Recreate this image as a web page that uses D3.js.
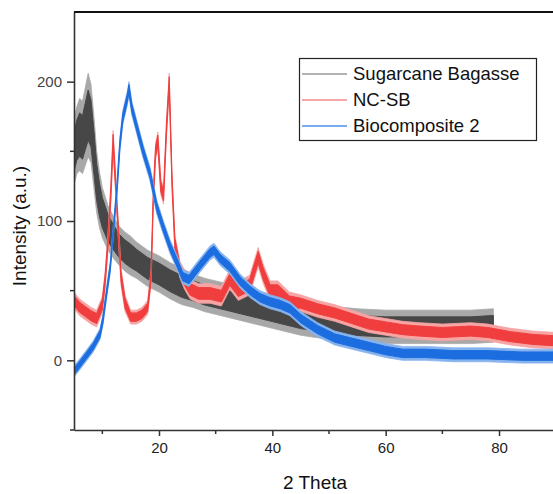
<!DOCTYPE html>
<html><head><meta charset="utf-8">
<script src="https://cdn.jsdelivr.net/npm/d3@7"></script>
<style>body{margin:0;background:#fff}svg{display:block}</style>
</head><body>
<svg id="c" width="553" height="494"></svg>
<script>
// ---- data ----
const seriesNames = ["Sugarcane Bagasse", "NC-SB", "Biocomposite 2"];
const xTicks = [20, 40, 60, 80];
const yTicks = [0, 100, 200];

// Sugarcane Bagasse: centre line and noise half-width
const sbX   = [5, 5.5, 6, 6.5, 7, 7.5, 8, 8.5, 9, 9.5, 10, 11, 12, 13, 14, 15, 16, 18, 20, 22, 24, 26, 28, 30, 33, 36, 40, 45, 50, 55, 60, 65, 70, 75, 79];
const sbY   = [150, 158, 162, 160, 168, 176, 170, 150, 128, 115, 106, 95, 88, 82, 78, 75, 72, 66, 62, 57, 53, 50, 47, 45, 42, 39, 35, 30, 27, 25, 24, 24, 24, 24, 25];
const sbAmp = [24, 24, 26, 26, 28, 30, 28, 26, 22, 20, 18, 16, 15, 14, 14, 14, 13, 13, 13, 13, 13, 12, 12, 12, 12, 12, 12, 12, 12, 12, 12, 12, 12, 12, 12];

// NC-SB
const ncX   = [5, 6, 7, 8, 9, 10, 10.5, 11, 11.5, 11.9, 12.3, 12.8, 13.3, 14, 15, 16, 17, 18, 18.6, 19, 19.4, 19.8, 20.3, 20.8, 21.3, 21.8, 22.3, 22.8, 23.7, 24.5, 25.5, 27, 29, 31, 32.5, 34, 36, 37.5, 38.4, 39.6, 41, 43, 45, 48, 51, 54, 57, 60, 63, 66, 70, 75, 78, 82, 86, 90];
const ncY   = [43, 38, 35, 32, 30, 40, 58, 85, 120, 158, 130, 95, 60, 41, 31, 31, 33, 38, 60, 118, 150, 158, 125, 118, 165, 200, 128, 84, 65, 58, 51, 48, 48, 46, 58, 50, 54, 74, 62, 50, 50, 42, 41, 37, 34, 30, 26, 24, 22, 21, 20, 21, 20, 17, 15, 14];
const ncAmp = [6, 6, 6, 6, 6, 6, 6, 6, 7, 7, 7, 6, 6, 6, 5, 5, 5, 5, 5, 6, 6, 6, 6, 6, 6, 6, 6, 6, 6, 7, 7, 7, 7, 7, 7, 7, 7, 7, 7, 7, 7, 7, 6, 6, 6, 6, 6, 6, 6, 6, 6, 6, 6, 6, 6, 6];

// Biocomposite 2
const bcX   = [5, 6, 7.3, 8.4, 9.6, 10.1, 10.8, 11.4, 11.9, 12.6, 13.1, 13.6, 14.4, 14.7, 15.2, 16.1, 17.2, 18.4, 19.6, 20.7, 22, 23.2, 24.2, 25.3, 27.2, 29, 29.7, 30.8, 32.5, 34.3, 36.1, 37.8, 39.6, 41.4, 43.1, 45, 48, 51, 54, 57, 60, 63, 67, 72, 78, 84, 90];
const bcY   = [-8, -3, 4, 10, 19, 29, 50, 67, 91, 124, 155, 174, 188, 195, 181, 167, 150, 134, 110, 96, 81, 70, 60, 58, 68, 77, 79, 73, 67, 57, 50, 45, 42, 40, 37, 30, 22, 16, 13, 10, 7, 5, 5, 4, 4, 3, 3];
const bcAmp = [4, 4, 4, 4, 4, 4, 4, 4, 4, 5, 5, 5, 5, 5, 5, 5, 5, 5, 5, 5, 5, 5, 5, 5, 5, 5, 5, 5, 5, 5, 5, 5, 5, 5, 5, 5, 5, 5, 5, 5, 5, 5, 5, 5, 5, 5, 5];

// ---- drawing ----
const svg = d3.select("#c");
const L = 74, R = 555.7, T = 12, B = 430;
const x = d3.scaleLinear().domain([5, 90]).range([L, R]);
const y = d3.scaleLinear().domain([-50, 250]).range([B, T]);

svg.append("clipPath").attr("id", "pc").append("rect")
  .attr("x", L).attr("y", T).attr("width", R - L).attr("height", B - T);

const plot = svg.append("g").attr("clip-path", "url(#pc)");

const series = [
  {name: seriesNames[0], xs: sbX, ys: sbY, amp: sbAmp, dark: "#474747", light: "#a8a8a8"},
  {name: seriesNames[1], xs: ncX, ys: ncY, amp: ncAmp, dark: "#f03e3e", light: "#f6a4a4"},
  {name: seriesNames[2], xs: bcX, ys: bcY, amp: bcAmp, dark: "#1b6de0", light: "#86b3ee"}
];

series.forEach(s => {
  const pts = s.xs.map((v, i) => ({x: v, y: s.ys[i], a: s.amp[i]}));
  const outer = d3.area().x(d => x(d.x)).y0(d => y(d.y - d.a)).y1(d => y(d.y + d.a));
  const inner = d3.area().x(d => x(d.x)).y0(d => y(d.y - d.a * 0.6)).y1(d => y(d.y + d.a * 0.6));
  plot.append("path").datum(pts).attr("d", outer).attr("fill", s.light).attr("stroke", s.light).attr("stroke-width", 0.8);
  plot.append("path").datum(pts).attr("d", inner).attr("fill", s.dark).attr("stroke", s.dark).attr("stroke-width", 1);
});

// axes
const axisColor = "#333";
const font = "Liberation Sans, Arial, sans-serif";
const xAxis = d3.axisBottom(x).tickValues(xTicks).tickSize(6).tickSizeOuter(0).tickFormat(d3.format("d"));
const gx = svg.append("g").attr("transform", `translate(0,${B})`).call(xAxis);
gx.select(".domain").attr("stroke", axisColor).attr("stroke-width", 1.6);
gx.selectAll(".tick line").attr("stroke", axisColor).attr("stroke-width", 1.5);
gx.selectAll(".tick text").attr("fill", "#222").attr("font-family", font).attr("font-size", 15).attr("dy", "0.95em");
svg.append("g").selectAll("line").data([10, 30, 50, 70, 90]).join("line")
  .attr("x1", d => x(d)).attr("x2", d => x(d)).attr("y1", B).attr("y2", B + 4)
  .attr("stroke", axisColor).attr("stroke-width", 1.5);

const yAxis = d3.axisLeft(y).tickValues(yTicks).tickSize(7).tickSizeOuter(0).tickFormat(d3.format("d"));
const gy = svg.append("g").attr("transform", `translate(${L},0)`).call(yAxis);
gy.select(".domain").attr("stroke", axisColor).attr("stroke-width", 1.6);
gy.selectAll(".tick line").attr("stroke", axisColor).attr("stroke-width", 1.5);
gy.selectAll(".tick text").attr("fill", "#444").attr("font-family", font).attr("font-size", 15).attr("x", -12);
svg.append("g").selectAll("line").data([-50, 50, 150]).join("line")
  .attr("x1", L - 4).attr("x2", L).attr("y1", d => y(d)).attr("y2", d => y(d))
  .attr("stroke", axisColor).attr("stroke-width", 1.5);

// top frame line
svg.append("line").attr("x1", L).attr("x2", 553).attr("y1", T).attr("y2", T)
  .attr("stroke", "#111").attr("stroke-width", 2);

// axis titles
svg.append("text").attr("x", 315).attr("y", 489).attr("text-anchor", "middle")
  .attr("font-family", font).attr("font-size", 19).attr("fill", "#111").text("2 Theta");
svg.append("text").attr("transform", `translate(26,226) rotate(-90)`).attr("text-anchor", "middle")
  .attr("font-family", font).attr("font-size", 19).attr("fill", "#111").text("Intensity (a.u.)");

// legend
const lg = svg.append("g");
lg.append("rect").attr("x", 299.5).attr("y", 58.5).attr("width", 237).attr("height", 82)
  .attr("fill", "#fff").attr("stroke", "#222").attr("stroke-width", 1.2);
const legColors = ["#999", "#f28a8a", "#4a90e8"];
seriesNames.forEach((n, i) => {
  const yy = 74 + i * 26;
  lg.append("line").attr("x1", 302).attr("x2", 347).attr("y1", yy).attr("y2", yy)
    .attr("stroke", legColors[i]).attr("stroke-width", 1.3);
  lg.append("text").attr("x", 353).attr("y", yy).attr("dy", "0.35em")
    .attr("font-family", font).attr("font-size", 18.5).attr("fill", "#111").text(n);
});
</script>
</body></html>
